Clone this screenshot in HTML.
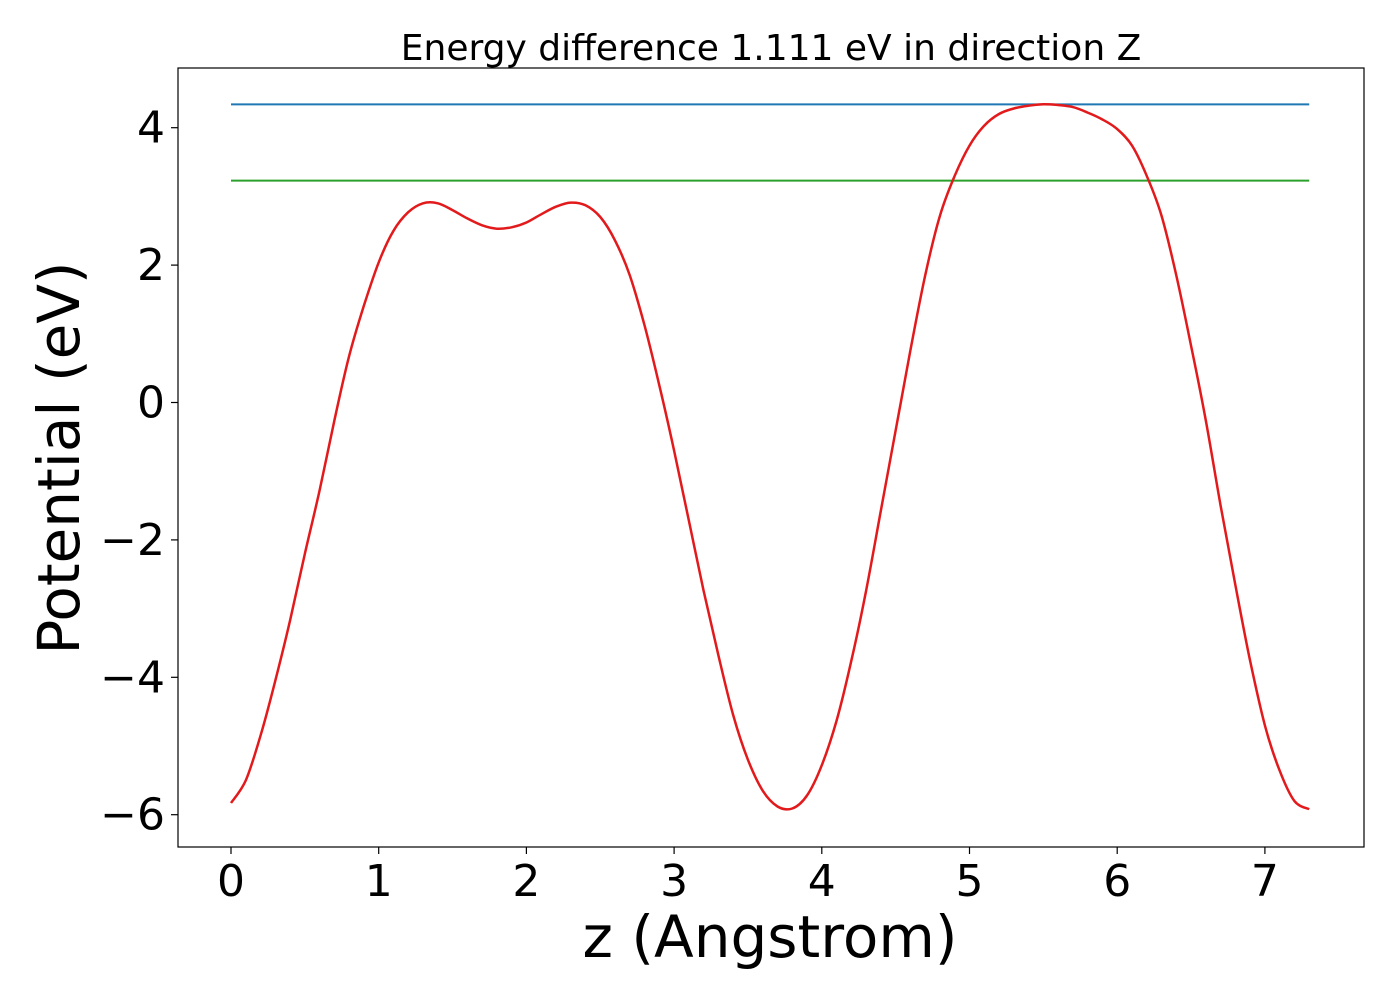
<!DOCTYPE html>
<html><head><meta charset="utf-8"><style>
body{margin:0;background:#fff;}
svg{display:block;font-family:"DejaVu Sans","Liberation Sans",sans-serif;}
</style></head><body>
<svg id="chart" width="1400" height="1000"></svg>
<script>
const zValues=[0,0.1,0.2,0.3,0.4,0.5,0.6,0.7,0.8,0.9,1.0,1.1,1.2,1.3,1.4,1.5,1.6,1.7,1.8,1.9,2.0,2.1,2.2,2.3,2.4,2.5,2.6,2.7,2.8,2.9,3.0,3.1,3.2,3.3,3.4,3.5,3.6,3.7,3.8,3.9,4.0,4.1,4.2,4.3,4.4,4.5,4.6,4.7,4.8,4.9,5.0,5.1,5.2,5.3,5.4,5.5,5.6,5.7,5.8,5.9,6.0,6.1,6.2,6.3,6.4,6.5,6.6,6.7,6.8,6.9,7.0,7.1,7.2,7.3];
const potential=[-5.83,-5.5,-4.85,-4.05,-3.17,-2.2,-1.28,-0.26,0.68,1.41,2.04,2.5,2.77,2.9,2.9,2.8,2.68,2.58,2.53,2.55,2.62,2.74,2.85,2.91,2.87,2.7,2.36,1.85,1.12,0.25,-0.7,-1.72,-2.74,-3.68,-4.55,-5.2,-5.65,-5.88,-5.91,-5.72,-5.28,-4.63,-3.76,-2.74,-1.57,-0.41,0.76,1.85,2.72,3.3,3.74,4.03,4.2,4.28,4.32,4.34,4.33,4.3,4.22,4.12,3.98,3.74,3.3,2.72,1.85,0.83,-0.26,-1.5,-2.66,-3.76,-4.7,-5.36,-5.8,-5.92];
const maxLevel=4.34;
const minusLevel=3.23;
const xTicks=[0,1,2,3,4,5,6,7];
const yTicks=[4,2,0,-2,-4,-6];
const titleText="Energy difference 1.111 eV in direction Z";

const NS="http://www.w3.org/2000/svg";
const svg=document.getElementById('chart');
const X=v=>231+v*147.7;
const Y=v=>402.5-v*68.7;
function mk(tag,attrs,parent){const e=document.createElementNS(NS,tag);for(const k in attrs)e.setAttribute(k,attrs[k]);(parent||svg).appendChild(e);return e;}

const frame=mk('rect',{x:178,y:68,width:1186,height:779,fill:'none',stroke:'#000','stroke-width':1.2});



xTicks.forEach(t=>{
  const l=mk('line',{x1:X(t),x2:X(t),y1:847,y2:854,stroke:'#000','stroke-width':1.2});
  
  
  const tx=mk('text',{x:X(t),y:896,'font-size':44,'text-anchor':'middle'});
  tx.textContent=t;
  
  
});
yTicks.forEach(t=>{
  const l=mk('line',{x1:171,x2:178,y1:Y(t),y2:Y(t),stroke:'#000','stroke-width':1.2});
  
  
  const tx=mk('text',{x:165,y:Y(t)+15,'font-size':44,'text-anchor':'end'});
  tx.textContent=t<0?'\u2212'+Math.abs(t):String(t);
  
  
});

const blue=mk('line',{x1:X(0),x2:X(7.3),y1:Y(maxLevel),y2:Y(maxLevel),stroke:'#1f77b4','stroke-width':2});


const green=mk('line',{x1:X(0),x2:X(7.3),y1:Y(minusLevel),y2:Y(minusLevel),stroke:'#2ca02c','stroke-width':2});



const pts=zValues.map((z,i)=>[X(z),Y(potential[i])]);
let d='M'+pts[0][0].toFixed(1)+','+pts[0][1].toFixed(1);
for(let i=0;i<pts.length-1;i++){
  const p0=pts[Math.max(0,i-1)],p1=pts[i],p2=pts[i+1],p3=pts[Math.min(pts.length-1,i+2)];
  const c1x=p1[0]+(p2[0]-p0[0])/6,c1y=p1[1]+(p2[1]-p0[1])/6;
  const c2x=p2[0]-(p3[0]-p1[0])/6,c2y=p2[1]-(p3[1]-p1[1])/6;
  d+=' C'+c1x.toFixed(1)+','+c1y.toFixed(1)+' '+c2x.toFixed(1)+','+c2y.toFixed(1)+' '+p2[0].toFixed(1)+','+p2[1].toFixed(1);
}
const curve=mk('path',{d:d,fill:'none',stroke:'#e31a1c','stroke-width':2.5,'stroke-linejoin':'round'});



const title=mk('text',{x:771,y:60,'font-size':36,'text-anchor':'middle'});
title.textContent=titleText;



const xl=mk('text',{x:770,y:957,'font-size':58,'text-anchor':'middle'});
xl.textContent='z (Angstrom)';



const yl=mk('text',{x:0,y:0,'font-size':58,'text-anchor':'middle',transform:'translate(79,458) rotate(-90)'});
yl.textContent='Potential (eV)';


</script>
</body></html>
